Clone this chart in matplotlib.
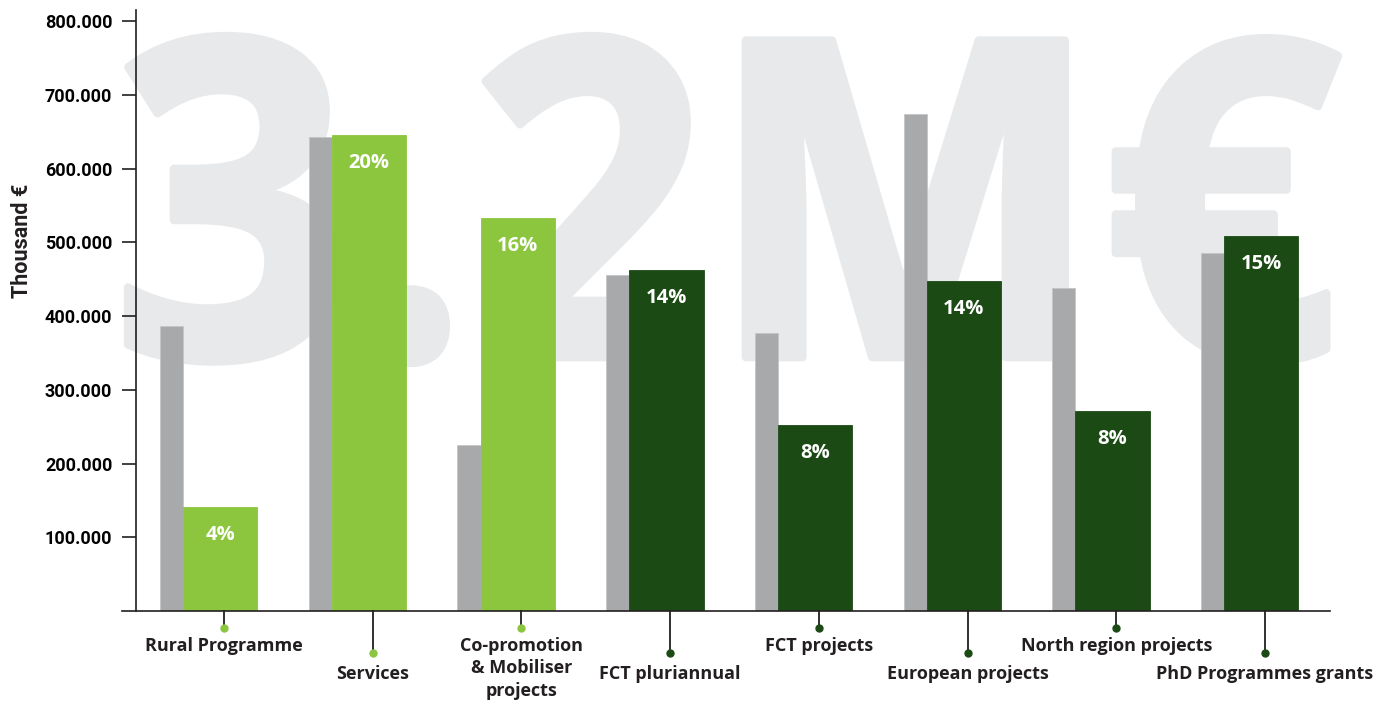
import matplotlib
matplotlib.use("Agg")
import matplotlib.pyplot as plt
from matplotlib.textpath import TextPath
from matplotlib.patches import PathPatch
from matplotlib.font_manager import FontProperties
from matplotlib.transforms import Affine2D
from matplotlib.ticker import FuncFormatter

# data (values in thousand euro)
categories = ["Rural Programme", "Services", "Co-promotion\n& Mobiliser\nprojects",
              "FCT pluriannual", "FCT projects", "European projects",
              "North region projects", "PhD Programmes grants"]
previous = [386000, 643000, 225000, 456000, 377000, 674000, 438000, 485000]
current = [141000, 645000, 533000, 462000, 252000, 447000, 271000, 508000]
shares = ["4%", "20%", "16%", "14%", "8%", "14%", "8%", "15%"]
watermark = "3.2M€"

light_green = "#8cc63f"
dark_green = "#1c4a15"
grey = "#a8a9ab"
ink = "#231f20"
bar_colors = [light_green] * 3 + [dark_green] * 5
label_font = "Open Sans"

W, H = 1377, 702
fig = plt.figure(figsize=(W / 100, H / 100), dpi=100)
ax_left, ax_right, ax_bottom, ax_top = 122, 1330, 611, 10
ax = fig.add_axes([ax_left / W, 1 - ax_bottom / H,
                   (ax_right - ax_left) / W, (ax_bottom - ax_top) / H])
ax_h_px = ax_bottom - ax_top

# big watermark behind the bars
wm_font = FontProperties(family="Open Sans", weight="bold")
tp = TextPath((0, 0), watermark, size=1, prop=wm_font)
ext = tp.get_extents()
box_x0, box_x1 = 128 / W, 1338 / W
box_y0, box_y1 = 1 - 363 / H, 1 - 36 / H
sx = (box_x1 - box_x0) / ext.width
sy = (box_y1 - box_y0) / ext.height
tr = Affine2D().translate(-ext.x0, -ext.y0).scale(sx, sy).translate(box_x0, box_y0)
wm = PathPatch(tr.transform_path(tp), facecolor="#e8e9eb", edgecolor="#e8e9eb",
               linewidth=6, joinstyle="round",
               transform=fig.transFigure, zorder=0, clip_on=False)
ax.add_patch(wm)

x = list(range(len(categories)))
ax.bar([i - 0.43 for i in x], previous, width=0.155, align="edge",
       color=grey, zorder=2, edgecolor="#c4c5c7", linewidth=0.6)
ax.bar([i - 0.275 for i in x], current, width=0.5, align="edge",
       color=bar_colors, zorder=2, edgecolor=bar_colors, linewidth=0.6)

for i, (v, s) in enumerate(zip(current, shares)):
    ax.annotate(s, (i - 0.025, v), xytext=(0, -20), textcoords="offset points",
                ha="center", va="center", color="white", fontsize=14.5,
                fontweight="bold", family=label_font, zorder=3)

ax.set_xlim(-0.686, 7.437)
ax.set_ylim(0, 815000)
ax.spines["left"].set_position(("data", -0.592))
ax.spines["right"].set_visible(False)
ax.spines["top"].set_visible(False)
for sp in ("left", "bottom"):
    ax.spines[sp].set_linewidth(1.2)
    ax.spines[sp].set_color(ink)
    ax.spines[sp].set_zorder(4)

ax.set_yticks(range(100000, 800001, 100000))
ax.yaxis.set_major_formatter(FuncFormatter(lambda v, p: f"{int(v / 1000)}.000"))
ax.tick_params(axis="y", length=10, width=1.2, color=ink, pad=7,
               labelsize=13, labelcolor="black")
for lab in ax.get_yticklabels():
    lab.set_fontfamily("Roboto")
    lab.set_fontweight("bold")
ax.set_xticks([])

fig.text(22 / W, 1 - 241 / H, "Thousand €", rotation=90, ha="center", va="center",
         fontsize=15.5, fontweight="bold", family="Roboto", color=ink)

# category ticks with dots, alternating length
xt = ax.get_xaxis_transform()
for i, lab in enumerate(categories):
    dot_px = 17 if i % 2 == 0 else 42
    text_px = 26 if i % 2 == 0 else 54
    ax.plot([i, i], [0, -dot_px / ax_h_px], transform=xt, color=ink, lw=1.3,
            clip_on=False, zorder=3)
    ax.plot([i], [-dot_px / ax_h_px], transform=xt, marker="o", ms=5,
            color=bar_colors[i], clip_on=False, zorder=4)
    ax.text(i, -text_px / ax_h_px, lab, transform=xt, ha="center", va="top",
            fontsize=13, fontweight="bold", family=label_font, color=ink,
            linespacing=1.32, clip_on=False)

fig.savefig("out.png", dpi=100)
